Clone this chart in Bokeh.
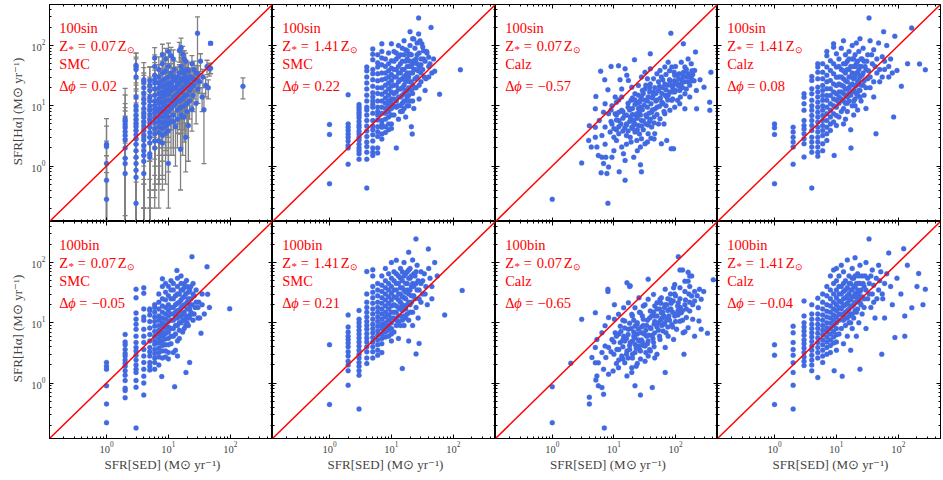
from bokeh.plotting import figure
from bokeh.layouts import column, row
from bokeh.models import LogAxis, LogTicker, Label, Spacer
from bokeh.embed import file_html
from bokeh.resources import INLINE

# ---------------- data ----------------
X_RANGE = (0.12, 480)
Y_RANGE = (0.12, 480)
one_to_one = [0.01, 1000]

panel_sfh = ["100sin", "100sin", "100sin", "100sin", "100bin", "100bin", "100bin", "100bin"]
panel_z = ["0.07", "1.41", "0.07", "1.41", "0.07", "1.41", "0.07", "1.41"]
panel_dust = ["SMC", "SMC", "Calz", "Calz", "SMC", "SMC", "Calz", "Calz"]
panel_dphi = ["0.02", "0.22", "\u22120.57", "0.08", "\u22120.05", "0.21", "\u22120.65", "\u22120.04"]
x_title = "SFR[SED] (M\u2299 yr\u207b\u00b9)"
y_title = "SFR[H\u03b1] (M\u2299 yr\u207b\u00b9)"

# panel 1 : (SFR_SED, SFR_Halpha, error)
p1 = [(1,2.3,3.8),(1,2.1,2.5),(1,1.1,1.5),(1,0.58,0.9),(1,0.28,0.5),
(2,6.1,9),(2,5.5,14),(2,4.9,6),(2,4.3,5),(2,3.7,4.5),(2,3.2,3.5),(2,2.7,3),(2,2.0,2.5),(2,1.35,1.5),(2,1.1,1.3),(2,0.75,0.6),
(3,47,28),(3,44,20),(3,40,35),(3,30,30),(3,14,14),(3,10,12),(3,8.5,9),(3,7,8),(3,6,7),(3,5.2,6),(3,4.5,5),(3,3.9,4),(3,3.3,3.5),(3,2.8,3),(3,2.3,2.5),(3,1.8,2),(3,1.4,1.5),(3,1.1,1.2),(3,0.85,0.9),(3,0.65,0.7),(3,0.24,0.3),
(4,27,25),(4,25,18),(4,20,15),(4,16,16),(4,13,10),(4,11,12),(4,9,8),(4,7.5,7),(4,6.5,6),(4,5.5,5.5),(4,4.6,4),(4,3.9,4),(4,3.2,3),(4,2.7,2.6),(4,2.2,2),(4,1.8,1.6),(4,1.5,1.4),(4,1.2,1),(4,0.75,0.8),
(5,26,18),(5,22,22),(5,18,12),(5,14,14),(5,12,9),(5,10,10),(5,8.5,7),(5,7.2,6),(5,6,6),(5,5.2,4),(5,4.4,4.2),(5,3.6,3),(5,3,2.8),(5,2.4,2),(5,1.6,1.5),(5,1.4,1.1),
(6,62,30),(6,45,25),(6,32,20),(6,27,18),(6,24,15),(6,19,12),(6,15,12),(6,12,8),(6,10,9),(6,8.6,6),(6,7.5,7),(6,6.3,5),(6,5.3,5),(6,4.2,3.5),(6,3.4,3),(6,2.6,2.2),(6,2.0,1.8),
(7,40,25),(7,30,18),(7,24,16),(7,20,12),(7,16,10),(7,13,11),(7,11,7),(7,9,8),(7,7.8,5),(7,6.5,6),(7,5.5,4),(7,4.5,4),(7,3.6,3),(7,2.6,2.4),
(8,70,35),(8,50,25),(8,35,20),(8,26,15),(8,21,14),(8,17,10),(8,14,9),(8,11.5,8),(8,9.5,7),(8,8,6),(8,6.5,5),(8,5.2,4),(8,4.2,3.6),(8,3.2,2.5),(8,2.4,2),
(9,60,30),(9,38,20),(9,28,16),(9,22,12),(9,18,11),(9,15,9),(9,12,8),(9,10,6),(9,8.2,5),(9,6.8,5),(9,5.5,4),(9,4.5,3),(9,3.5,3),
(10,80,30),(10,45,20),(10,30,15),(10,24,12),(10,19,10),(10,15.5,8),(10,12.5,7),(10,10,6),(10,8,5),(10,6.5,4),(10,5,3.5),(10,3.8,3),(10,1.1,0.9),
(11,35,15),(11,18,9),(11,9,5),(11,5.5,4),(11,68,25),(11.5,25,12),(12,60,25),(12,14,7),(12,7,5),(12.5,40,15),(13,20,10),(13,11,6),(13,4.5,3.5),
(14,30,14),(14,16,8),(14,8.5,5),(15,83,30),(15,24,10),(15,12,7),(15.7,1.9,1.5),(16,93,40),(16,45,18),(16,18,9),(16,9.5,6),(17,72,25),(17,28,12),
(17,13,7),(17,6.5,5),(18,60,22),(18,35,14),(18,20,10),(18,10,6),(19,3.0,2.2),(19,55,20),(19,15,8),(20,25,10),(20,8,5),(21,4.7,3.5),(21,38,14),
(22,18,8),(22,12,6),(23,30,12),(24,50,18),(24,22,9),(24,8.8,5),(25,15,7),(26,40,15),(27,27,10),(28,11,6),(29.5,160,140),(30,19,8),(30,34,12),
(32,25,9),(33,55,18),(35,14,6),(36,30,10),(37.5,8.6,7.5),(40,22,8),(42,45,12),(44,20,7),(46,41,10),(48,109,6),(48,42,8),(160,21,8),
(11,22,9),(11,12,6),(12,30,12),(12,19,8),(12,10,5),(13,26,10),(13,15,7),(14,22,9),(14,12,6),(15,35,13),(15,18,8),(15,9,5),(16,28,11),
(16,13,7),(17,20,9),(17,38,14),(18,26,10),(18,15,7),(19,30,12),(19,22,9),(20,40,15),(20,15,7),(21,25,10),(22,30,12),(23,20,8),(25,28,10),
(26,22,9),(28,35,12),(30,26,9),(12,5.5,4),(14,6,4),(16,7,5),(18,6.5,4),(20,11,6)]

p2 = [(1,4.9),(1,3.35),(1,0.51),
(2,15.2),(2,5.0),(2,4.4),(2,3.9),(2,3.4),(2,3.0),(2,2.6),(2,2.2),(2,2.0),(2,1.07),
(3,10.5),(3,9.5),(3,8.6),(3,7.7),(3,7.0),(3,6.3),(3,5.5),(3,4.8),(3,4.4),(3,3.8),(3,3.4),(3,3.0),(3,2.7),(3,2.3),(3,2.0),(3,1.8),(3,1.6),(3,1.3),
(4,44),(4,38),(4,30),(4,24),(4,19),(4,15),(4,12),(4,9.5),(4,8.5),(4,7),(4,5.7),(4,4.6),(4,3.8),(4,3.1),(4,2.5),(4,2.1),(4,1.7),(4,1.3),(4,0.43),
(5,88),(5,72),(5,58),(5,40),(5,34),(5,27),(5,21),(5,16.5),(5,14),(5,12),(5,10.5),(5,9.5),(5,7.5),(5,5.7),(5,4.6),(5,4.0),(5,3.3),(5,2.6),(5,2.0),(5,1.7),(5,1.5),
(6,70),(6,52),(6,44),(6,34),(6,26),(6,20),(6,16),(6,12),(6,9.5),(6,8),(6,7),(6,5.8),(6,4.5),(6,3.7),(6,3.1),(6,2.0),(6,1.65),
(7,107),(7,80),(7,62),(7,48),(7,35),(7,27),(7,20),(7,15.5),(7,12),(7,9.5),(7,7.5),(7,5.7),(7,5.0),(7,4.4),(7,3.4),(7,2.8),
(8,60),(8,45),(8,35),(8,28),(8,22),(8,17),(8,13.5),(8,11),(8,9),(8,7.5),(8,6),(8,4.5),(8,3.6),
(9,75),(9,50),(9,38),(9,30),(9,24),(9,19),(9,15),(9,12),(9,10),(9,8),(9,6.5),(9,5),(9,4),
(10,107),(10,56),(10,42),(10,33),(10,26),(10,21),(10,17),(10,13),(10,11),(10,9),(10,7),(10,5),(10,4.2),
(11,80),(11,40),(11,22),(11,13),(11,7),(12,2.0),(12,60),(12,30),(12,17),(12,9.5),(13,100),(13,45),(13,25),(13,14),(13,6),
(14,70),(14,35),(14,19),(14,10),(15,55),(15,28),(15,15),(15,8),(16,120),(16,40),(16,22),(16,12),(17,85),(17,32),(17,18),(17,6.5),
(18,60),(18,26),(18,14),(18,82),(19,45),(19,20),(19,10),(20,170),(20,100),(20,35),(20,72),(21,4.5),(21.7,3.4),(21,70),(21,25),
(22,130),(22,50),(22,16),(23,40),(23,9),(23,129),(23,56),(24,90),(24,28),(25,60),(25,20),(26,110),(26,50),(27.5,287),(27.5,156),(27,38),
(28,75),(28,13),(29,120),(30,48),(30,25),(31,107),(32,95),(33,60),(33,82),(34,30),(35,18),(37,80),(37.5,75),(40,45),(40,64),
(43.6,200),(45,35),(48,60),(50,37.6),(60,15.5),(130,39.5),
(11,55),(11,30),(11,16),(11,10),(12,75),(12,40),(12,22),(12,12),(13,65),(13,35),(13,19),(13,10),(14,50),(14,27),(14,14),(14,8),
(15,90),(15,40),(15,20),(15,11),(16,70),(16,30),(16,16),(16,9),(17,55),(17,25),(17,12),(18,45),(18,35),(18,18),(18,10),(19,70),
(19,30),(19,15),(20,55),(20,25),(20,12),(21,45),(21,18),(22,35),(22,22),(22,12),(24,55),(24,40),(24,20),(26,70),(26,30),(28,45),
(28,22),(30,60),(30,35),(32,40),(35,55),(36,28),(40,30),(42,50)]

p3 = [(9.0,45),(6.1,37.6),(5.1,14.3),(5,8.9),(4,4.66),(3.0,1.12),(1.0,0.28),(8,0.24),(15.2,0.58),(6.2,0.77),(27,1.05),(28,0.8),
(39,73),(84,160),(134,107),(211,78),(375,36),(358,11.5),(360,8.4),(290,20.4),(220,8.9),
(21.6,58),(15.2,41),(11.9,46),(7.1,27),(8,18.4),(12.6,27),(13.4,19),(16.2,32),(28,30),(32,36),(39,41),(46,20),(59,30),(76,53),
(87,44),(97,32),(124,53),(142,44),(160,60),(180,50),(204,38.6),(160,34),(124,23),(97,17),(76,15),(67,23),(53,25),(44,17),(36,14),
(32,12.3),(27,9.5),(22,15.8),(19,12.3),(17,9.5),(15,6.9),(13.4,8.4),(12,5.7),(10.5,7.4),(9.3,5.0),(8.2,7.4),(7.2,10.8),(6.8,7.8),
(5.8,5.7),(5,4.4),(5,3.0),(5.3,2.06),(5.6,1.5),(7.2,2.3),(7.4,1.4),(6.8,1.1),(8.2,0.96),(9.3,1.4),(10,1.8),(11,2.66),(12,3.44),
(13.4,2.06),(14.3,1.6),(15.2,1.24),(16,2.3),(18.4,3.0),(19.5,4.4),(22,3.66),(23.5,2.66),(27,2.06),(28,2.85),(32,2.34),(36,3.44),
(41,4.43),(46,3.44),(53,5.0),(59,2.34),(72,2.66),(85,1.94),(93,1.94),(56,6.1),(67,7.4),(81,8.4),(97,9.5),(117,10.8),(142,8.9),
(108,12.3),(87,12.3),(72,14),(63,10.8),(50,9.5),(41,7.8),(34,6.5),(28,5.7),(25,4.7),(21,5.7),(18.4,6.5),(23.5,7.4),(27,12.3),
(32,19),(39,23),(44,28),(50,34),(56,38.6),(67,44),(81,26),(97,23),(113,28),(133,31),(160,25),(185,26),(218,18),(170,14),(142,15.8),
(117,18),(17.2,26.4),(19.5,20.4),(10.5,14),(9.3,10),(25,21.7),(11,11.5),(13.4,14),(8.7,3.66),(7.2,4.43),(6.4,3.2),(3.9,2.66),
(4.3,2.06),(6.4,1.4),(7.7,0.75),(12.2,0.8),(21,1.4),(30,4.0),(38,5.5),(45,6.5),(26,8.0),(20,9.0),(35,9.5),(60,16),(70,18.5),
(90,20),(105,24),(150,30),(190,33),(250,27),(35,28),(24,11),(16,5),(11,4),(48,12),(30,16),(65,5),(40,2.9),
(10,3.0),(12,4.5),(14,3.8),(16,4.8),(18,5.5),(20,4.2),(22,5.0),(24,6.2),(26,3.4),(28,4.6),(30,5.6),(33,7.0),(36,4.8),(39,6.0),
(42,8.5),(45,5.2),(50,7.2),(55,9.8),(60,11.5),(65,8.0),(70,10),(75,12.5),(80,17),(85,22),(90,13),(100,18),(110,22),(120,14),
(130,20),(140,25),(150,19),(170,22),(180,30),(200,26),(14,8.0),(17,11),(20,13.5),(25,15),(29,18),(33,22),(38,17),(42,13.5),
(48,16),(55,21),(62,27),(70,33),(80,38),(95,36),(115,34),(100,45),(12,12.5),(9,8.5),(11,7),(16,3.2),(19,2.5),(24,1.8),(35,2.5),(45,2.8),
(9,5.5),(10,4.2),(11,5.8),(12,7.8),(13,5.0),(14,6.2),(15,4.3),(16,7.0),(17,3.8),(18,8.5),(19,6.0),(20,7.2),(21,4.8),(22,10.5),
(23,6.8),(24,4.0),(25,9.0),(26,11.5),(27,7.0),(29,8.6),(31,10.2),(33,5.0),(35,12.0),(37,7.5),(40,10.8),(43,14.5),(46,8.8),(50,12.5),
(53,18),(57,13.5),(62,20),(68,15),(74,22),(80,27),(88,17),(96,26),(105,32),(115,21),(125,27),(135,36),(150,40),(165,30),(185,38),
(38,20),(28,14),(22,12.5)]

p4 = [(1,5.0),(1,4.3),(1,3.35),(1,0.51),
(2,4.4),(2,3.66),(2,3.0),(2,2.5),(2,2.06),(2,1.07),
(3,15.8),(3,13.9),(3,10.8),(3,8.4),(3,5.7),(3,4.7),(3,4.1),(3,3.44),(3,2.84),(3,2.34),(3,1.41),
(4,30.6),(4,26.4),(4,19.1),(4,15.8),(4,12.3),(4,10),(4,8.4),(4,6.9),(4,5.7),(4,4.7),(4,3.9),(4,3.0),(4,2.5),(4,2.06),(4,1.7),(4,0.43),
(5,50),(5,44),(5,36),(5,28),(5,20.4),(5,16.9),(5,14),(5,11.5),(5,9.5),(5,7.8),(5,6.5),(5,5.4),(5,4.4),(5,3.66),(5,3.0),(5,2.5),(5,2.06),(5,1.7),(5,1.45),
(6,50),(6,36),(6,28),(6,21.7),(6,17.9),(6,14.8),(6,12.3),(6,10),(6,8.4),(6,6.9),(6,5.7),(6,4.7),(6,3.9),(6,3.2),(6,2.34),(6,1.8),
(7,80),(7,68),(7,44),(7,32),(7,25),(7,19.1),(7,14.8),(7,12.3),(7,9.5),(7,7.4),(7,5.7),(7,4.4),(7,3.44),(7,2.66),
(8,56),(8,38.6),(8,26.4),(8,19.1),(8,14.8),(8,10.8),(8,8.4),(8,6.5),(8,5.0),(8,3.9),
(9,107),(9,94),(9,50),(9,34),(9,23),(9,16.9),(9,13),(9,10),(9,7.4),(9,5.4),(9.2,1.5),
(10,72.8),(10,44),(10,29.7),(10,21.7),(10,15.8),(10,12.3),(10,9.5),(10,6.9),(10,4.7),
(11,60),(11,30),(11,17),(11,11),(11,6.5),(12,90),(12,40),(12,22),(12,13),(12,8),(13,120),(13,50),(13,28),(13,16),(13,9),(13,5),
(14,70),(14,35),(14,19),(14,11),(14,6),(15,55),(15,25),(15,14),(15,8),(16,80),(16,40),(16,20),(16,12),(17.2,1.99),(17,4),(17,30),
(17,15),(18,100),(18,60),(18,23),(18,10),(19,45),(19,18),(19,7),(20,70),(20,30),(20,13),(21,110),(21,50),(21,22),(22,35),(22,15),
(22,8.5),(23,80),(23,26),(24,130),(24,45),(24,18),(25,60),(25,12),(26,32),(27,90),(27,22),(28,55),(28,15),(30,40),(30,9),(32,70),
(32,28),(33.6,287),(35,120),(35,20),(38,50),(40,85),(40,14),(43.5,3.43),(45,35),(48,110),(50,25),(55,65),(57.9,170),(60,40),(65,100),
(70,30),(75,60),(84,6.5),(87.7,143),(95,38.6),(112,21),(141,50),(164,196),(220,49.6),(273,39.5),
(11,45),(11,23),(11,14),(12,30),(12,17),(13,38),(13,21),(13,12),(14,50),(14,26),(14,15),(15,40),(15,19),(15,11),(16,60),(16,30),
(16,16),(17,45),(17,22),(18,35),(18,17),(19,60),(19,28),(19,12),(20,45),(20,21),(20,10),(21,35),(21,16),(22,55),(22,25),(23,40),
(23,18),(24,30),(24,14),(25,45),(25,22),(26,60),(27,35),(28,26),(29,45),(30,20),(31,55),(33,38),(35,30),(37,70),(40,25),(42,45),
(45,60),(50,40),(55,30),(60,55),(70,45),(80,35)]

p5 = [(1,2.2),(1,1.9),(1,1.7),(1,0.9),(1,0.45),(1,0.22),
(2,6.4),(2,4.8),(2,4.3),(2,3.6),(2,3.1),(2,2.8),(2,2.4),(2,2.1),(2,1.9),(2,1.6),(2,1.35),(2,1.1),(2,0.82),(2,0.75),(2,0.57),
(3,36),(3,26),(3,14.5),(3,11.5),(3,9.5),(3,7.8),(3,6.0),(3,4.7),(3,3.9),(3,3.4),(3,2.9),(3,2.4),(3,2.0),(3,1.7),(3,1.5),(3,1.1),(3,0.85),(3,0.18),
(4,38),(4,31),(4,17),(4,12.5),(4,11),(4,7.8),(4,6),(4,4.7),(4,3.6),(4,2.8),(4,2.2),(4,1.7),(4,1.3),(4,1.0),(4,0.63),
(5,17),(5,16),(5,13.5),(5,10.5),(5,8.2),(5,6.4),(5,5),(5,3.9),(5,3.3),(5,2.8),(5,2.2),(5,1.9),(5,1.65),
(6,20),(6,18),(6,15),(6,12.5),(6,10.5),(6,8.8),(6,7.2),(6,6),(6,5),(6,4.4),(6,3.6),(6,3.1),(6,2.6),(6,2.2),(6,1.7),
(7,30),(7,22),(7,17),(7,13),(7,11),(7,9),(7,7.5),(7,6.5),(7,5.5),(7,4.6),(7,3.8),(7,3.2),(7,2.7),(7,2.0),
(8,53.6),(8,40),(8,25),(8,19),(8,15),(8,12),(8,10),(8,8.5),(8,7),(8,6),(8,5),(8,4.2),(8,3.4),(8,2.6),(7.8,1.28),
(9,45),(9,32),(9,24),(9,18),(9,14),(9,11.5),(9,9.5),(9,8),(9,6.6),(9,5.4),(9,4.3),(9,3.4),
(10,40),(10,28),(10,20),(10,16),(10,13),(10,10.5),(10,8.5),(10,7),(10,5.5),(10,4.3),(10,3.2),
(11,50),(11,25),(11,14),(11,8),(11,4.5),(12,35),(12,18),(12,11),(12,6),(12.6,0.87),(13,28),(13,15),(13,9),(13.7,74),(13,3.5),
(14,40),(14,21),(14,12),(15,30),(15,16),(15,10),(15,5.5),(16,60),(16,24),(16,13),(17,35),(17,19),(17,11),(18,45),(18,27),(18,15),
(18,8),(19.2,1.5),(19.6,50.5),(20,22),(20,12),(21,32),(21,9),(22,2.2),(22,17),(23,40),(23,25),(24,125),(24,14),(25,11),(26,28),
(27,18),(28,35),(30,12),(31,22),(33.6,6.7),(35,30),(38,14),(42,85),(43,29.7),(46,18),(97.6,17.1),
(11,35),(11,18),(11,11),(11,6),(12,25),(12,14),(12,8),(13,20),(13,12),(13,6.5),(14,30),(14,16),(14,9),(14,5),(15,22),(15,13),
(15,7.5),(16,35),(16,18),(16,10),(17,26),(17,14),(17,7),(18,20),(18,11),(19,30),(19,13),(19,9),(20,17),(20,10),(21,25),(21,13),
(22,12),(22,20),(23,15),(24,20),(25,30),(26,14),(28,22),(30,18),(32,12),(35,20),(12,45),(14,55),(16,45),(18,38),(20,40),(22,35),
(25,45),(10,2.5),(9,2.7),(12,3.2),(14,2.8)]

p6 = [(1,4.33),(1,0.44),
(2,13.5),(2,8.5),(2,7),(2,6),(2,5.3),(2,4.6),(2,4),(2,3.3),(2,2.8),(2,2.3),(2,2.0),(2,1.6),(2,0.92),
(3,16),(3,11.5),(3,10),(3,8.7),(3,7.5),(3,6.5),(3,5.6),(3,4.8),(3,4.1),(3,3.5),(3,3.0),(3,2.6),(3,2.2),(3,1.9),(3,1.6),(3,1.35),(3,0.37),
(4,71),(4,30),(4,22),(4,18),(4,15),(4,12.5),(4,10.5),(4,9),(4,7.8),(4,6.6),(4,5.6),(4,4.8),(4,4.0),(4,3.3),(4,2.6),(4,2.1),
(5,76),(5,60),(5,40),(5,32),(5,26),(5,21),(5,17),(5,14),(5,11.5),(5,9.5),(5,8),(5,6.8),(5,5.7),(5,4.8),(5,4.0),(5,3.3),(5,2.6),
(6,45),(6,35),(6,28),(6,22),(6,18),(6,15),(6,12.5),(6,10.5),(6,8.8),(6,7.3),(6,6.2),(6,5.2),(6,4.3),(6,3.5),(6,2.9),
(7,60),(7,42),(7,33),(7,26),(7,21),(7,17),(7,14),(7,11.5),(7,9.5),(7,8),(7,6.5),(7,5.5),(7,4.5),(7,3.2),
(8,80),(8,50),(8,38),(8,30),(8,24),(8,19),(8,15),(8,12.5),(8,10),(8,8.5),(8,7),(8,5.8),
(9,65),(9,45),(9,35),(9,27),(9,21),(9,17),(9,13.5),(9,11),(9,9),(9,7.5),(9,6),
(10,100),(10,55),(10,40),(10,31),(10,24),(10,19),(10,15),(10,12),(10,10),(10,8),(10,6.5),(10,5),
(11,70),(11,35),(11,20),(11,12),(11,7),(12,109),(12,45),(12,26),(12,15),(12,9),(13,60),(13,30),(13,18),(13,10.5),(13,5.5),
(14,80),(14,38),(14,22),(14,13),(15,1.74),(15,50),(15,27),(15,16),(16,100),(16,35),(16,19),(16,9),(17,65),(17,25),(17,12),
(18,45),(18,20),(19,148),(19,75),(19,30),(19,5),(20,55),(20,15),(21,40),(21,22),(22,110),(22,9),(23,65),(23,28),(24.9,247),
(25,3.04),(25,45),(25,18),(26,90),(27,12),(28,4.55),(28,35),(30,70),(30,22),(32,50),(35,30),(39.5,168),(40,80),(45,40),(50,100),
(55,60),(72.5,13.5),(139,34.4),
(11,50),(11,27),(11,15),(12,65),(12,35),(12,19),(12,11),(13,45),(13,24),(13,13),(14,55),(14,30),(14,17),(14,9),(15,70),(15,38),
(15,20),(15,11),(16,60),(16,26),(16,13),(17,45),(17,32),(17,17),(18,70),(18,35),(18,14),(19,55),(19,22),(19,11),(20,80),(20,35),
(20,20),(21,60),(21,28),(22,45),(22,15),(23,40),(24,60),(24,25),(25,70),(26,35),(27,50),(28,25),(30,45),(32,30),(34,65),(36,40),
(38,20),(42,55),(45,25)]

p7 = [(118,75),(160,69),(183,60),(97,43),(118,38),(142,33),(170,40),(204,33),(245,36),(287,33),(97,30),(83,24),(68,36),(59,26),
(50,21.5),(44,29.5),(36,24.5),(30,19),(25.5,26),(22,17.8),(19.5,13.8),(17.2,21.5),(14.4,17.8),(11.9,13.8),(10.2,20),(8.2,12.2),
(7.2,8.9),(6.4,6.8),(5.3,5.3),(5,3.9),(4.4,2.65),(5,2.17),(5.3,1.31),(5.1,1.12),(5.6,0.9),(6.4,0.84),(6.8,0.65),(7.4,2.65),(8.2,3.9),
(9.3,5.3),(10.5,6.8),(11.2,3.6),(12.7,4.7),(13.4,2.8),(14.4,6.0),(15,2.17),(16.3,3.4),(17.2,7.8),(18.4,4.7),(19.5,1.8),(21,6.0),
(22,3.2),(23.5,9.4),(25.5,4.1),(27,2.5),(28,6.8),(30,11.4),(32,4.1),(34,6.0),(36,2.8),(39,8.3),(41,12.9),(44,4.7),(46,6.8),(50,3.0),
(53,10),(56,5.3),(59,14.7),(63,7.3),(68,3.9),(72,11.4),(76,6.0),(81,16.7),(87,9.4),(93,5.3),(97,12.9),(104,7.8),(111,21.5),
(118,10.6),(124,14.7),(133,6.8),(142,20),(150,12.2),(160,8.3),(170,15.7),(190,11.4),(204,23),(235,17.8),(183,27.8),(261,24.5),
(16.3,46),(18.4,41),(8,36),(10.2,11.4),(12.7,8.8),(15,10.7),(22,8.8),(27,14.7),(32,20),(39,15.7),(46,19),(56,24.5),(46,12.9),
(68,20),(83,30),(93,38),(142,49),(170,60),(160,49),(7.2,4.1),(6.4,3.2),(5.6,2.17),(6.8,1.69),(8.2,1.4),(9.7,1.58),(11.9,1.8),
(16.3,1.31),(22,0.9),(19.5,1.5),(4,0.58),(4,0.45),(27,0.63),(42,0.84),(68,1.5),(137,3.0),(330,6.7),(410,52),(240,10.7),(142,7.1),
(204,6.0),(261,7.8),(3,11.4),(5,14.7),(2,2.13),(1,0.87),(1,0.22),(7,0.18),(111,125),(130,75),(36,53),(18,40),(8,33),
(26,5.0),(35,4.5),(20,3.0),(14,5.2),(30,9.0),(45,9.5),(60,9.0),(75,8.5),(65,13),(90,15),(110,16),(55,17),(38,3.6),(24,2.1),
(10,3.0),(12,2.4),(14,4.0),(16,5.5),(18,3.6),(20,5.0),(22,4.4),(24,6.5),(26,3.6),(28,5.2),(30,4.2),(33,7.5),(36,5.0),(39,3.4),
(42,6.2),(45,4.0),(50,8.5),(55,6.0),(60,12),(65,9.5),(70,6.8),(75,16),(80,11),(90,8.5),(100,10.5),(110,13.5),(120,18),(130,11),
(150,17),(170,22),(12,6.5),(15,8.2),(18,9.8),(21,11),(25,7.8),(29,13),(34,9.0),(38,12),(44,15),(50,17),(58,21),(66,18),(75,25),
(85,21),(100,28),(9,3.3),(11,2.1),(17,2.6),(23,1.9),(32,2.3),(46,2.6),
(10,4.8),(11,6.0),(12,3.6),(13,7.2),(14,2.5),(15,5.0),(16,3.0),(17,6.4),(18,4.2),(19,8.0),(20,2.6),(21,7.0),(22,5.6),(23,3.8),
(24,10),(25,5.2),(27,3.4),(28,8.5),(29,4.8),(31,6.5),(33,3.2),(35,11),(37,6.2),(40,8.0),(43,5.5),(46,10.5),(50,13),(53,7.5),
(57,11),(62,15),(67,10),(72,20),(78,13),(84,17),(92,23),(100,14),(108,19),(118,25),(130,16),(145,24),(165,30),(190,20),(225,28),
(26,15),(20,13),(14,11)]

p8 = [(1,4.3),(1,2.9),(1,0.44),
(2,8.8),(2,6.8),(2,4.7),(2,3.6),(2,2.9),(2,2.17),(2,1.5),(2,0.92),(2,0.37),
(3,23),(3,13),(3,10),(3,8.5),(3,7.3),(3,6.2),(3,5.2),(3,4.5),(3,3.8),(3,3.2),(3,2.7),(3,2.3),(3,1.95),
(4,20),(4,14),(4,11.5),(4,9.5),(4,8),(4,6.8),(4,5.8),(4,4.9),(4,4.1),(4,3.5),(4,2.9),(4,2.4),(4,2.0),(4,1.6),
(5,25.6),(5,18),(5,14),(5,11.5),(5,9.5),(5,8),(5,6.7),(5,5.6),(5,4.7),(5,3.9),(5,3.2),(5,2.6),(5,1.23),
(6,30),(6,22),(6,17),(6,13.5),(6,11),(6,9),(6,7.5),(6,6.3),(6,5.2),(6,4.3),(6,3.5),(6,2.8),(6,2.2),
(7,40),(7,28),(7,20),(7,15.5),(7,12.5),(7,10),(7,8.3),(7,7),(7,5.8),(7,4.8),(7,3.9),(7,3.0),
(8,60),(8,35),(8,25),(8,19),(8,15),(8,12),(8,9.8),(8,8),(8,6.5),(8,5.2),(8,4.2),(8,3.2),
(9,75),(9,45),(9,30),(9,22),(9,17),(9,13.5),(9,11),(9,9),(9,7.2),(9,5.8),(9,4.6),(9.2,1.6),
(10,80),(10,50),(10,35),(10,26),(10,20),(10,16),(10,12.5),(10,10),(10,8),(10,6.3),(10,4.8),(10,3.5),
(11,60),(11,30),(11,18),(11,11),(11,6.5),(12,90),(12,40),(12,22),(12,13.5),(12,8),(12.4,1.29),(13,70),(13,33),(13,19),(13,11),(13,4.5),
(14,50),(14,26),(14,15),(14,9),(15,110),(15,38),(15,21),(15,12),(15,6),(16,60),(16,30),(16,17),(16,10),(17,45),(17,24),(17,14),
(17,3.5),(18,80),(18,35),(18,19),(18,8),(19,55),(19,27),(19,12),(20,120),(20,40),(20,22),(21,30),(21,15),(21,6),(22,65),(22,25),
(23,45),(23,10),(24,1.7),(24,90),(24,33),(25,20),(26,60),(26,14),(28,40),(28,25),(30,100),(30,8),(32,55),(33.6,247),(34,30),(36,18),
(38,75),(40,42),(42,12),(45,25),(48,90),(50,50),(54,3.0),(55,30),(60,12),(65,65),(70,144),(75,40),(80,20),(88,5.7),(95,55),(110,30),
(122,170),(127,12.9),(127,6.0),(140,90),(165,17.7),(213,66),(273,36),(200,40),(250,20),
(11,40),(11,23),(11,14),(12,30),(12,17),(13,45),(13,25),(13,14),(14,35),(14,20),(14,12),(15,28),(15,16),(16,45),(16,24),(16,13),
(17,35),(17,19),(17,10),(18,55),(18,27),(18,14),(19,40),(19,20),(20,60),(20,30),(20,16),(21,45),(21,22),(22,35),(22,17),(23,28),
(23,60),(24,45),(24,22),(25,35),(26,27),(27,45),(28,18),(29,60),(30,35),(32,25),(34,45),(36,60),(38,30),(40,22),(44,55),(48,35),
(52,70),(56,25),(60,45)]

panel_points = [p1, p2, p3, p4, p5, p6, p7, p8]

# ---------------- style ----------------
BLUE = "#4169e1"
RED = "#ff0000"
GREY = "#808080"
SERIF = "Liberation Serif"
FRAME_W = [223, 223, 222, 223]
FRAME_H = 217


def style_axis(ax, show, label_standoff=4, title_standoff=3):
    ax.ticker = LogTicker(num_minor_ticks=10)
    ax.major_tick_in = 4
    ax.major_tick_out = 0
    ax.minor_tick_in = 2
    ax.minor_tick_out = 0
    ax.major_tick_line_color = "black"
    ax.minor_tick_line_color = "black"
    ax.axis_line_color = "black"
    if show:
        ax.major_label_text_font = SERIF
        ax.major_label_text_font_size = "10.5px"
        ax.major_label_standoff = label_standoff
        ax.axis_label_text_font = SERIF
        ax.axis_label_text_font_size = "13px"
        ax.axis_label_text_font_style = "normal"
        ax.axis_label_standoff = title_standoff
    else:
        ax.major_label_text_color = None
        ax.major_label_standoff = 0
        ax.axis_label = None


def add_text(p, text, dx, dy, size="14.5px", style="normal"):
    p.add_layout(Label(x=X_RANGE[0], y=Y_RANGE[1], x_offset=dx, y_offset=-dy, text=text,
                       text_font=SERIF, text_font_size=size, text_font_style=style,
                       text_color=RED, text_align="left", text_baseline="alphabetic"))


figs = []
for i in range(8):
    r, c = divmod(i, 4)
    p = figure(x_axis_type="log", y_axis_type="log", x_range=X_RANGE, y_range=Y_RANGE,
               frame_width=FRAME_W[c], frame_height=FRAME_H,
               min_border_left=0, min_border_right=1 if c == 3 else 0,
               min_border_top=4 if r == 0 else 0, min_border_bottom=0,
               toolbar_location=None, output_backend="svg",
               outline_line_color="black", outline_line_width=1,
               background_fill_color="white", border_fill_color="white")
    p.xgrid.visible = False
    p.ygrid.visible = False
    style_axis(p.xaxis[0], r == 1, label_standoff=3, title_standoff=1)
    style_axis(p.yaxis[0], c == 0)
    if r == 1:
        p.xaxis[0].axis_label = x_title
    if c == 0:
        p.yaxis[0].axis_label = y_title
    top = LogAxis()
    right = LogAxis()
    style_axis(top, False)
    style_axis(right, False)
    p.add_layout(top, "above")
    p.add_layout(right, "right")

    pts = panel_points[i]
    xs = [q[0] for q in pts]
    ys = [q[1] for q in pts]
    if i == 0:
        err = [q[2] for q in pts]
        lo = [max(y - e, 0.01) for y, e in zip(ys, err)]
        hi = [y + e for y, e in zip(ys, err)]
        p.segment(x0=xs, y0=lo, x1=xs, y1=hi, line_color=GREY, line_width=1.3)
        p.scatter(xs, lo, marker="dash", size=5, line_color=GREY, line_width=1.3)
        p.scatter(xs, hi, marker="dash", size=5, line_color=GREY, line_width=1.3)
    p.scatter(xs, ys, size=5, fill_color=BLUE, line_color=BLUE, line_width=0.3)
    p.line(one_to_one, one_to_one, line_color=RED, line_width=1.5)

    # annotations
    add_text(p, panel_sfh[i], 9.7, 23.7)
    add_text(p, "Z", 9.7, 41.7)
    add_text(p, "*", 18.9, 44.2, size="11px")
    add_text(p, "=", 28.3, 41.7)
    add_text(p, panel_z[i], 41.2, 41.7)
    add_text(p, "Z", 68.3, 41.7)
    add_text(p, "\u2299", 77.0, 45.0, size="9px")
    add_text(p, panel_dust[i], 9.7, 59.5)
    add_text(p, "\u0394", 9.7, 81.7)
    add_text(p, "\u03d5", 18.7, 81.7, style="italic")
    add_text(p, "=", 29.7, 81.7)
    add_text(p, panel_dphi[i], 42.0, 81.7)
    figs.append(p)

layout = column(row(Spacer(width=7), *figs[:4]), row(Spacer(width=7), *figs[4:]))

open("out.html", "w").write(file_html(layout, INLINE))
